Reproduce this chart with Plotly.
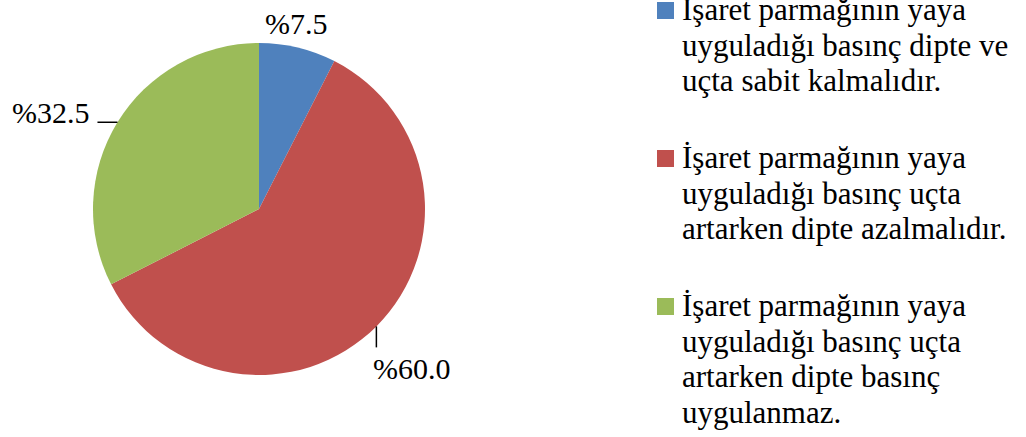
import math
import plotly.graph_objects as go

# Survey answers (one list of text lines per answer) and their shares (%)
answer_lines = [
    ["Işaret parmağının yaya", "uyguladığı basınç dipte ve", "uçta sabit kalmalıdır."],
    ["İşaret parmağının yaya", "uyguladığı basınç uçta", "artarken dipte azalmalıdır."],
    ["İşaret parmağının yaya", "uyguladığı basınç uçta", "artarken dipte basınç", "uygulanmaz."],
]
values = [7.5, 60.0, 32.5]
colors = ["#4F81BD", "#C0504D", "#9BBB59"]

W, H = 1026, 437
CX, CY, R = 259, 209, 166  # pie centre and radius in pixels
FONT = "Liberation Serif"
LABEL_SIZE = 30
LEGEND_SIZE = 31


def px(x):
    return x / W


def py(y):
    return 1 - y / H


def baseline_to_mid(baseline, size):
    # vertical centre of a text box whose baseline sits at `baseline`
    return baseline - 0.3375 * size


fig = go.Figure(
    go.Pie(
        labels=[" ".join(lines) for lines in answer_lines],
        values=values,
        marker=dict(colors=colors, line=dict(width=0)),
        sort=False,
        direction="clockwise",
        rotation=0,
        textinfo="none",
        hoverinfo="label+percent",
        showlegend=False,
        domain=dict(x=[px(CX - R), px(CX + R)], y=[py(CY + R), py(CY - R)]),
    )
)

annotations = []
shapes = []

# Data labels around the slice mid-angles, with short leader lines
total = sum(values)
start = 0.0
# per-slice: (leader dx, leader dy, label dx, label baseline dy, xanchor)
placement = [
    (0, 0, -1, -13.6, "center"),
    (0, 21, -5.4, 52.6, "left"),
    (-20, 0, -25.4, 0.6, "right"),
]
for v, (ldx, ldy, tdx, tdy, xa) in zip(values, placement):
    mid = (start + v / 2) / total * 2 * math.pi
    start += v
    ex = CX + R * math.sin(mid)
    ey = CY - R * math.cos(mid)
    if ldx or ldy:
        shapes.append(
            dict(
                type="line", xref="paper", yref="paper",
                x0=px(ex), y0=py(ey), x1=px(ex + ldx), y1=py(ey + ldy),
                line=dict(color="black", width=1.5),
            )
        )
    annotations.append(
        dict(
            x=px(ex + tdx), y=py(baseline_to_mid(ey + tdy, LABEL_SIZE)),
            xref="paper", yref="paper",
            text=f"%{v:.1f}", showarrow=False, xanchor=xa, yanchor="middle",
            font=dict(family=FONT, size=LABEL_SIZE, color="black"),
        )
    )

# Legend: coloured square beside each answer's wrapped text
LEG_TEXT_X = 681
LEG_KEY_X0, LEG_KEY_X1 = 657, 674
LINE_STEP = 35.5
ITEM_STEP = 77
baseline = 20
for lines, color in zip(answer_lines, colors):
    shapes.append(
        dict(
            type="rect", xref="paper", yref="paper",
            x0=px(LEG_KEY_X0), x1=px(LEG_KEY_X1),
            y0=py(baseline - 1), y1=py(baseline - 18),
            fillcolor=color, line=dict(width=0),
        )
    )
    for i, line in enumerate(lines):
        annotations.append(
            dict(
                x=px(LEG_TEXT_X - 1), y=py(baseline_to_mid(baseline + i * LINE_STEP, LEGEND_SIZE)),
                xref="paper", yref="paper",
                text=line, showarrow=False, xanchor="left", yanchor="middle",
                font=dict(family=FONT, size=LEGEND_SIZE, color="black"),
            )
        )
    baseline += (len(lines) - 1) * LINE_STEP + ITEM_STEP

fig.update_layout(
    width=W,
    height=H,
    margin=dict(l=0, r=0, t=0, b=0),
    paper_bgcolor="white",
    plot_bgcolor="white",
    showlegend=False,
    annotations=annotations,
    shapes=shapes,
)

fig.write_html("out.html")
